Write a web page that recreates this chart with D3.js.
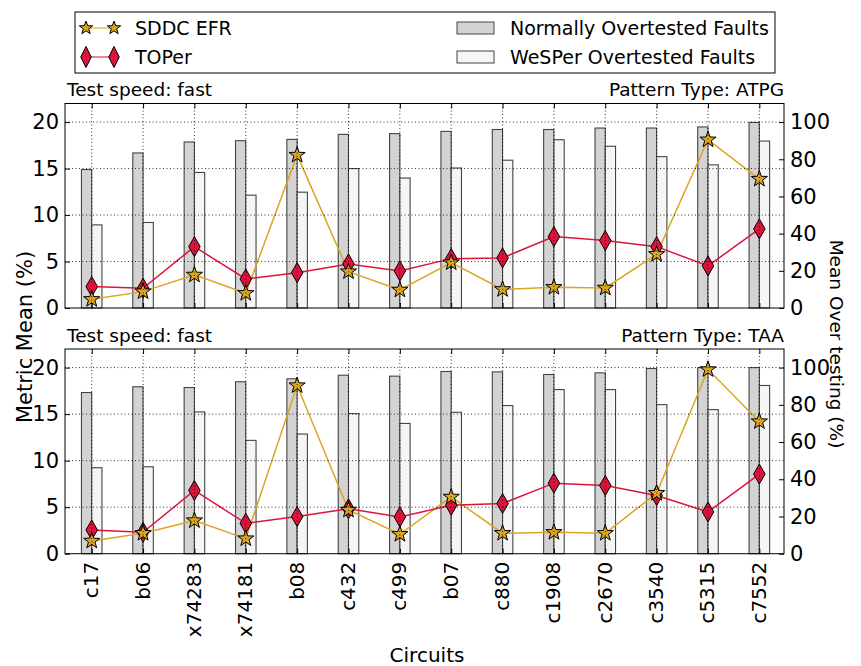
<!DOCTYPE html>
<html>
<head>
<meta charset="utf-8">
<script src="https://cdn.jsdelivr.net/npm/d3@7"></script>
<style>
  body { margin: 0; background: #fff; }
  text { font-family: "DejaVu Sans", sans-serif; fill: #000; }
</style>
</head>
<body>
<div id="container"></div>
<script>
/**
 * DATA
 * */
const circuits = ["c17", "b06", "x74283", "x74181", "b08", "c432", "c499",
                  "b07", "c880", "c1908", "c2670", "c3540", "c5315", "c7552"];

// top panel, pattern ATPG
const atpgNormal = [74.5, 83.4, 89.3, 90, 90.7, 93.4, 93.8, 95, 96, 96, 96.8, 96.8, 97.4, 99.8];
const atpgWesper = [44.7, 46, 72.9, 60.7, 62.3, 75, 69.9, 75.3, 79.5, 90.5, 87, 81.4, 77, 89.8];
const atpgSddc = [0.93, 1.76, 3.56, 1.58, 16.45, 3.91, 1.94, 4.88, 2.0, 2.23, 2.16, 5.78, 18.1, 13.87];
const atpgToper = [2.3, 2.12, 6.6, 3.12, 3.8, 4.74, 3.99, 5.31, 5.39, 7.68, 7.25, 6.6, 4.53, 8.51];

// bottom panel, pattern TAA
const taaNormal = [86.6, 89.7, 89.3, 92.4, 94, 95.9, 95.4, 97.9, 97.7, 96.3, 97.2, 99.5, 100, 100];
const taaWesper = [46.2, 46.7, 76.2, 60.9, 64.3, 75.3, 70, 76, 79.6, 88.2, 88.2, 80.1, 77.4, 90.4];
const taaSddc = [1.37, 2.2, 3.56, 1.62, 18.07, 4.7, 2.09, 6.1, 2.2, 2.3, 2.2, 6.5, 19.8, 14.2];
const taaToper = [2.55, 2.3, 6.8, 3.27, 3.99, 4.82, 3.95, 5.21, 5.39, 7.58, 7.33, 6.25, 4.49, 8.56];

const leftTicks = [0, 5, 10, 15, 20];
const rightTicks = [0, 20, 40, 60, 80, 100];

/**
 * CONSTANTS
 * */
const width = 861, height = 666;
const plotLeft = 65, plotRight = 784;
const panels = [
  {top: 103.5, bottom: 308, normal: atpgNormal, wesper: atpgWesper, sddc: atpgSddc, toper: atpgToper,
   left: "Test speed: fast", right: "Pattern Type: ATPG", xlabels: false},
  {top: 349, bottom: 553.7, normal: taaNormal, wesper: taaWesper, sddc: taaSddc, toper: taaToper,
   left: "Test speed: fast", right: "Pattern Type: TAA", xlabels: true}
];
const gold = "#DAA520", crimson = "#DC143C";

const svg = d3.select("#container").append("svg")
  .attr("width", width).attr("height", height);

const x = d3.scaleLinear().domain([-0.52, 13.48]).range([plotLeft, plotRight]);
const barW = 0.2;

function starPath(cx, cy, R) {
  const r = R * 0.4;
  let p = "";
  for (let k = 0; k < 10; k++) {
    const a = -Math.PI / 2 + k * Math.PI / 5;
    const rr = k % 2 === 0 ? R : r;
    p += (k === 0 ? "M" : "L") + (cx + rr * Math.cos(a)) + "," + (cy + rr * Math.sin(a));
  }
  return p + "Z";
}
function diamondPath(cx, cy, w, h) {
  return `M${cx},${cy - h / 2}L${cx + w / 2},${cy}L${cx},${cy + h / 2}L${cx - w / 2},${cy}Z`;
}

panels.forEach(p => {
  const yL = d3.scaleLinear().domain([0, 22]).range([p.bottom, p.top]);
  const yR = d3.scaleLinear().domain([0, 110]).range([p.bottom, p.top]);
  const g = svg.append("g");

  // bars
  g.selectAll("rect.normal").data(p.normal).join("rect")
    .attr("x", (d, i) => x(i - barW)).attr("width", (d, i) => x(i) - x(i - barW))
    .attr("y", d => yR(d)).attr("height", d => yR(0) - yR(d))
    .attr("fill", "#d3d3d3").attr("stroke", "#444").attr("stroke-width", 1.1);
  g.selectAll("rect.wesper").data(p.wesper).join("rect")
    .attr("x", (d, i) => x(i)).attr("width", (d, i) => x(i + barW) - x(i))
    .attr("y", d => yR(d)).attr("height", d => yR(0) - yR(d))
    .attr("fill", "#f5f5f5").attr("stroke", "#444").attr("stroke-width", 1.1);

  // lines
  const line = d3.line().x((d, i) => x(i)).y(d => yL(d));
  g.append("path").attr("d", line(p.sddc)).attr("fill", "none")
    .attr("stroke", gold).attr("stroke-width", 1.5);
  g.append("path").attr("d", line(p.toper)).attr("fill", "none")
    .attr("stroke", crimson).attr("stroke-width", 1.5);
  g.selectAll("path.d").data(p.toper).join("path")
    .attr("d", (d, i) => diamondPath(x(i), yL(d), 11.5, 20))
    .attr("fill", crimson).attr("stroke", "#000").attr("stroke-width", 1);
  g.selectAll("path.s").data(p.sddc).join("path")
    .attr("d", (d, i) => starPath(x(i), yL(d), 8.5))
    .attr("fill", gold).attr("stroke", "#000").attr("stroke-width", 1);

  // grid on top (classic style)
  const grid = g.append("g").attr("stroke", "#000").attr("stroke-width", 0.8)
    .attr("stroke-dasharray", "1,2.5");
  grid.selectAll("line.h").data(leftTicks.slice(1)).join("line")
    .attr("x1", plotLeft).attr("x2", plotRight).attr("y1", d => yL(d)).attr("y2", d => yL(d));
  grid.selectAll("line.v").data(circuits).join("line")
    .attr("x1", (d, i) => x(i)).attr("x2", (d, i) => x(i)).attr("y1", p.top).attr("y2", p.bottom);

  // axes with inward ticks
  const axL = g.append("g").attr("transform", `translate(${plotLeft},0)`)
    .call(d3.axisLeft(yL).tickValues(leftTicks).tickSizeInner(-5).tickSizeOuter(0).tickPadding(6));
  const axR = g.append("g").attr("transform", `translate(${plotRight},0)`)
    .call(d3.axisRight(yR).tickValues(rightTicks).tickSizeInner(-5).tickSizeOuter(0).tickPadding(6));
  const axT = g.append("g").attr("transform", `translate(0,${p.top})`)
    .call(d3.axisTop(x).tickValues(d3.range(circuits.length)).tickSizeInner(-5).tickSizeOuter(0).tickFormat(""));
  const axB = g.append("g").attr("transform", `translate(0,${p.bottom})`)
    .call(d3.axisBottom(x).tickValues(d3.range(circuits.length)).tickSizeInner(-5).tickSizeOuter(0)
      .tickFormat(i => p.xlabels ? circuits[i] : ""));
  [axL, axR, axT, axB].forEach(a => {
    a.select(".domain").remove();
    a.selectAll("line").attr("stroke", "#000");
    a.selectAll("text").style("font-size", "21px").attr("fill", "#000");
  });
  if (p.xlabels) {
    axB.selectAll("text")
      .style("font-size", "20px")
      .attr("transform", "rotate(-90)")
      .attr("text-anchor", "end").attr("dy", "0.3em")
      .attr("x", -8).attr("y", 0);
  }
  g.append("rect").attr("x", plotLeft).attr("y", p.top)
    .attr("width", plotRight - plotLeft).attr("height", p.bottom - p.top)
    .attr("fill", "none").attr("stroke", "#000").attr("stroke-width", 1);

  g.append("text").attr("x", plotLeft + 2).attr("y", p.top - 7.5)
    .style("font-size", "18.5px").text(p.left);
  g.append("text").attr("x", plotRight).attr("y", p.top - 7.5).attr("text-anchor", "end")
    .style("font-size", "18.5px").text(p.right);
});

// axis titles
svg.append("text").attr("transform", "translate(32,337) rotate(-90)")
  .attr("text-anchor", "middle").style("font-size", "21px").text("Metric Mean (%)");
svg.append("text").attr("transform", "translate(830,344) rotate(90)")
  .attr("text-anchor", "middle").style("font-size", "18.5px").text("Mean Over testing (%)");
svg.append("text").attr("x", 427).attr("y", 662).attr("text-anchor", "middle")
  .style("font-size", "20px").text("Circuits");

// legend
const leg = svg.append("g");
leg.append("rect").attr("x", 75).attr("y", 12).attr("width", 700).attr("height", 61)
  .attr("fill", "#fff").attr("stroke", "#000").attr("stroke-width", 1);
const legItems = [
  {label: "SDDC EFR", type: "star", color: gold, y: 28},
  {label: "TOPer", type: "diamond", color: crimson, y: 57}
];
legItems.forEach(it => {
  leg.append("line").attr("x1", 86).attr("x2", 114).attr("y1", it.y).attr("y2", it.y)
    .attr("stroke", it.color).attr("stroke-width", 1.5).attr("stroke-opacity", 0.7);
  [86, 114].forEach(cx => {
    leg.append("path")
      .attr("d", it.type === "star" ? starPath(cx, it.y, 7) : diamondPath(cx, it.y, 10.5, 21))
      .attr("fill", it.color).attr("stroke", "#000").attr("stroke-width", 1);
  });
  leg.append("text").attr("x", 135).attr("y", it.y + 7).style("font-size", "19px").text(it.label);
});
const barItems = [
  {label: "Normally Overtested Faults", fill: "#d3d3d3", y: 28},
  {label: "WeSPer Overtested Faults", fill: "#f5f5f5", y: 57}
];
barItems.forEach(it => {
  leg.append("rect").attr("x", 457).attr("y", it.y - 6).attr("width", 37).attr("height", 12)
    .attr("fill", it.fill).attr("stroke", "#444").attr("stroke-width", 1);
  leg.append("text").attr("x", 510).attr("y", it.y + 7).style("font-size", "19px").text(it.label);
});
</script>
</body>
</html>
